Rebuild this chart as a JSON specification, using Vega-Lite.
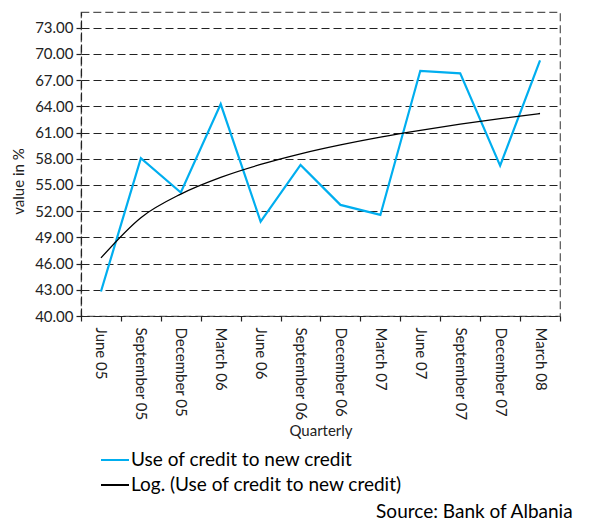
{
  "$schema": "https://vega.github.io/schema/vega-lite/v6.json",
  "width": 479,
  "height": 304,
  "autosize": {"type": "none"},
  "padding": {"left": 81, "top": 12, "right": 38, "bottom": 210},
  "background": "white",
  "title": {
    "text": "Source: Bank of Albania",
    "orient": "bottom",
    "anchor": "end",
    "font": "Lato",
    "fontSize": 19,
    "fontWeight": "normal",
    "color": "#000",
    "offset": 8,
    "dx": 12
  },
  "data": {
    "values": [
      {"q": "June 05", "series": "Use of credit to new credit", "value": 42.8},
      {"q": "September 05", "series": "Use of credit to new credit", "value": 58.07},
      {"q": "December 05", "series": "Use of credit to new credit", "value": 54.13},
      {"q": "March 06", "series": "Use of credit to new credit", "value": 64.26},
      {"q": "June 06", "series": "Use of credit to new credit", "value": 50.81},
      {"q": "September 06", "series": "Use of credit to new credit", "value": 57.3},
      {"q": "December 06", "series": "Use of credit to new credit", "value": 52.72},
      {"q": "March 07", "series": "Use of credit to new credit", "value": 51.57},
      {"q": "June 07", "series": "Use of credit to new credit", "value": 68.07},
      {"q": "September 07", "series": "Use of credit to new credit", "value": 67.77},
      {"q": "December 07", "series": "Use of credit to new credit", "value": 57.22},
      {"q": "March 08", "series": "Use of credit to new credit", "value": 69.26},
      {"q": "June 05", "series": "Log. (Use of credit to new credit)", "value": 46.65},
      {"q": "September 05", "series": "Log. (Use of credit to new credit)", "value": 51.26},
      {"q": "December 05", "series": "Log. (Use of credit to new credit)", "value": 53.96},
      {"q": "March 06", "series": "Log. (Use of credit to new credit)", "value": 55.87},
      {"q": "June 06", "series": "Log. (Use of credit to new credit)", "value": 57.35},
      {"q": "September 06", "series": "Log. (Use of credit to new credit)", "value": 58.57},
      {"q": "December 06", "series": "Log. (Use of credit to new credit)", "value": 59.59},
      {"q": "March 07", "series": "Log. (Use of credit to new credit)", "value": 60.48},
      {"q": "June 07", "series": "Log. (Use of credit to new credit)", "value": 61.26},
      {"q": "September 07", "series": "Log. (Use of credit to new credit)", "value": 61.96},
      {"q": "December 07", "series": "Log. (Use of credit to new credit)", "value": 62.6},
      {"q": "March 08", "series": "Log. (Use of credit to new credit)", "value": 63.18}
    ]
  },
  "encoding": {
    "x": {
      "field": "q",
      "type": "nominal",
      "sort": null,
      "scale": {"type": "band", "paddingInner": 0, "paddingOuter": 0},
      "axis": {
        "title": "Quarterly",
        "labelAngle": 90,
        "labelAlign": "left",
        "labelBaseline": "middle",
        "labelPadding": 6,
        "tickBand": "extent",
        "grid": false,
        "titlePadding": 4
      }
    },
    "y": {
      "field": "value",
      "type": "quantitative",
      "scale": {"domain": [40, 74.8], "nice": false, "zero": false},
      "axis": {
        "title": "value in %",
        "values": [40, 43, 46, 49, 52, 55, 58, 61, 64, 67, 70, 73],
        "format": ".2f",
        "grid": true,
        "titlePadding": 8,
        "titleY": 169
      }
    },
    "color": {
      "field": "series",
      "type": "nominal",
      "sort": ["Use of credit to new credit", "Log. (Use of credit to new credit)"],
      "scale": {"domain": ["Use of credit to new credit", "Log. (Use of credit to new credit)"], "range": ["#00aeef", "#000000"]},
      "legend": {
        "title": null,
        "orient": "none",
        "legendX": 19,
        "legendY": 433,
        "direction": "vertical",
        "symbolType": "stroke",
        "symbolSize": 784,
        "symbolStrokeWidth": 2,
        "labelFont": "Lato",
        "labelFontSize": 19,
        "labelColor": "#000",
        "labelLimit": 400,
        "labelOffset": 1,
        "rowPadding": -5
      }
    }
  },
  "layer": [
    {
      "transform": [{"filter": "datum.series === 'Use of credit to new credit'"}],
      "mark": {"type": "line", "strokeWidth": 2.2}
    },
    {
      "transform": [{"filter": "datum.series !== 'Use of credit to new credit'"}],
      "mark": {"type": "line", "interpolate": "monotone", "strokeWidth": 1.3}
    }
  ],
  "config": {
    "font": "Lato",
    "view": {"stroke": "#555", "strokeDash": [8, 4], "strokeWidth": 1.2},
    "axis": {
      "labelFont": "Lato",
      "labelFontSize": 15,
      "labelColor": "#222",
      "titleFont": "Lato",
      "titleFontSize": 15,
      "titleFontWeight": "normal",
      "titleColor": "#222",
      "domainColor": "#222",
      "domainDash": [8, 4],
      "domainWidth": 1.2,
      "tickColor": "#222",
      "tickSize": 5,
      "tickWidth": 1.2,
      "gridColor": "#222",
      "gridDash": [8, 4],
      "gridWidth": 1.2,
      "gridOpacity": 1,
      "labelPadding": 3
    }
  }
}
